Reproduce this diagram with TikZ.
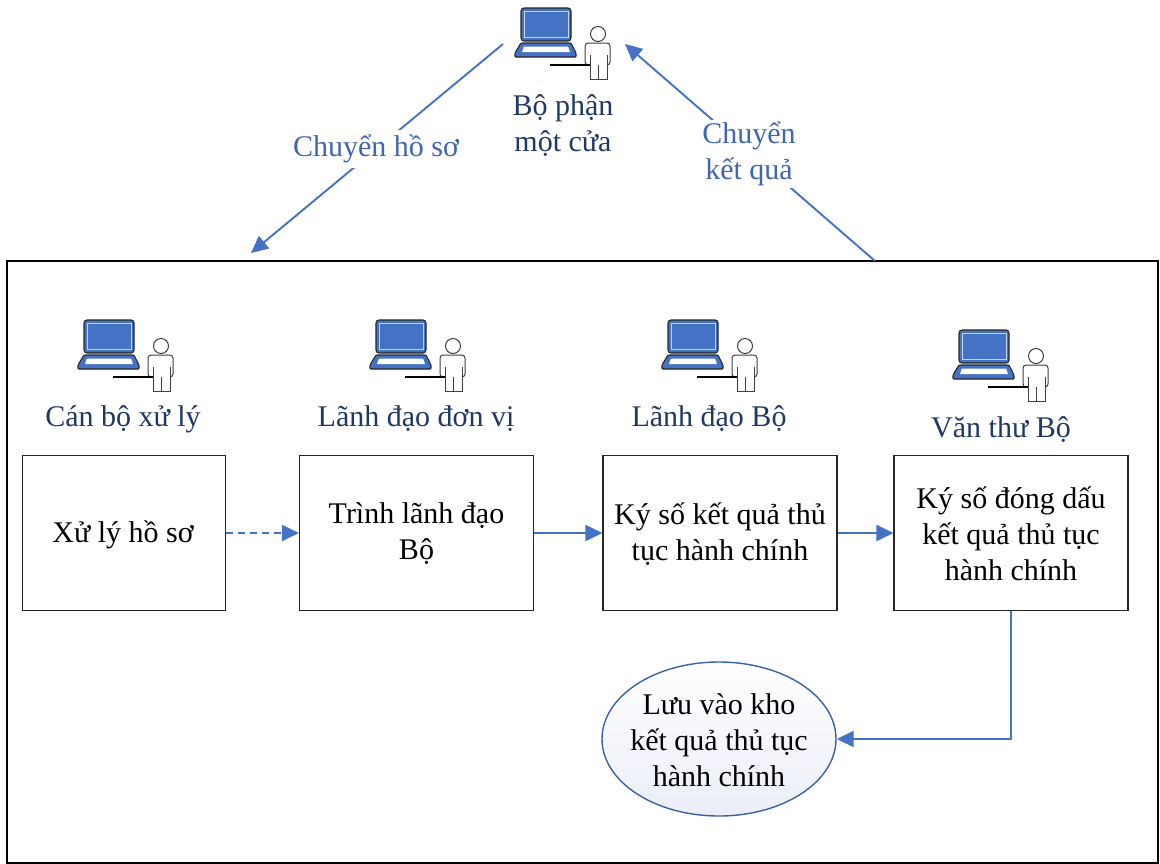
\documentclass[tikz,border=0pt]{standalone}
\usepackage{fontspec}
\setmainfont{Liberation Serif}
\usetikzlibrary{arrows.meta,shapes.geometric,calc}
\definecolor{arrowblue}{HTML}{4472C4}
\definecolor{labelblue}{HTML}{3F66B0}
\definecolor{navy}{HTML}{1F3864}
\definecolor{ellfill}{HTML}{EBEEF7}
\tikzset{
  x=1pt,y=-1pt,
  frame/.style={draw=black,line width=2pt},
  stepbox/.style={draw=black!85,line width=1.1pt,fill=white,minimum height=155pt,inner sep=0pt},
  boxtext/.style={align=center,inner sep=0pt,font=\fontsize{30}{36}\selectfont},
  flow/.style={draw=arrowblue,line width=1.9pt,-{Triangle[length=17pt,width=16pt]}},
  rolelabel/.style={text=navy,align=center,font=\fontsize{30}{36}\selectfont},
  linklabel/.style={text=labelblue,fill=white,align=center,inner sep=2pt,font=\fontsize{30}{36}\selectfont},
  usericon/.pic={
    \draw[fill=arrowblue,draw=black!85,line width=1.1pt,rounded corners=3pt] (1,0) rectangle (51,33);
    \draw[arrowblue!30,line width=1pt] (4,3.5) rectangle (48,29.5);
    \draw[fill=arrowblue,draw=black!85,line width=1.1pt,rounded corners=1pt] (1,35) -- (51,35) -- (56,45) -- (56,49) -- (-5,49) -- (-5,45) -- cycle;
    \fill[white] (4,38.5) -- (48,38.5) -- (50,44) -- (2,44) -- cycle;
    \draw[black!75,line width=1pt] (78,26) circle (7.5);
    \draw[black!75,line width=1pt,rounded corners=3pt] (70,57) -- (65,57) -- (65,35) -- (90,35) -- (90,57) -- (87,57);
    \draw[black!75,line width=1pt] (70,47) -- (70,71) -- (87,71) -- (87,47) (78,57) -- (78,71);
    \draw[black,line width=1.1pt] (30,57) -- (70,57);
  }
}
\begin{document}
\begin{tikzpicture}
\useasboundingbox (0,0) rectangle (1160,863);
\node[frame,minimum width=1151pt,minimum height=602pt,inner sep=0pt,anchor=north west] (outer) at (6,260) {};

\pic at (520,8) {usericon};
\pic at (83,320) {usericon};
\pic at (375,320) {usericon};
\pic at (667,320) {usericon};
\pic at (958,330) {usericon};

\node[rolelabel] (top) at (563,126) {Bộ phận\\một cửa};
\node[rolelabel] (r1) at (123,419) {Cán bộ xử lý};
\node[rolelabel] (r2) at (416,419) {Lãnh đạo đơn vị};
\node[rolelabel] (r3) at (709,419) {Lãnh đạo Bộ};
\node[rolelabel] (r4) at (1001,430) {Văn thư Bộ};

\node[stepbox,minimum width=203pt] (b1) at (124,533) {};
\node[stepbox,minimum width=234pt] (b2) at (416.5,533) {};
\node[stepbox,minimum width=234pt] (b3) at (720,533) {};
\node[stepbox,minimum width=234pt] (b4) at (1011,533) {};
\node[boxtext] (t1) at (123,535) {Xử lý hồ sơ};
\node[boxtext] (t2) at (416.5,534) {Trình lãnh đạo\\Bộ};
\node[boxtext] (t3) at (720,534) {Ký số kết quả thủ\\tục hành chính};
\node[boxtext] (t4) at (1011,534) {Ký số đóng dấu\\kết quả thủ tục\\hành chính};

\node[ellipse,draw=arrowblue!85!black,line width=1.4pt,minimum width=234pt,minimum height=154pt,inner sep=0pt,
      top color=white,bottom color=ellfill] (store) at (719,739) {};
\node[boxtext] (t5) at (719,740) {Lưu vào kho\\kết quả thủ tục\\hành chính};

\draw[flow,dash pattern=on 7pt off 5pt] (b1.east) -- (b2.west);
\draw[flow] (b2.east) -- (b3.west);
\draw[flow] (b3.east) -- (b4.west);
\draw[flow] (b4.south) |- (store.east);

\coordinate (ltop) at (503,44);
\coordinate (lend) at (251,253);
\coordinate (rstart) at (875,261);
\coordinate (rend) at (625,44);
\draw[flow] (ltop) -- (lend);
\draw[flow] (rstart) -- (rend);
\node[linklabel,minimum height=38pt] (lab1) at (376,149) {Chuyển hồ sơ};
\node[linklabel] (lab2) at (749,154) {Chuyển\\kết quả};
\end{tikzpicture}
\end{document}
